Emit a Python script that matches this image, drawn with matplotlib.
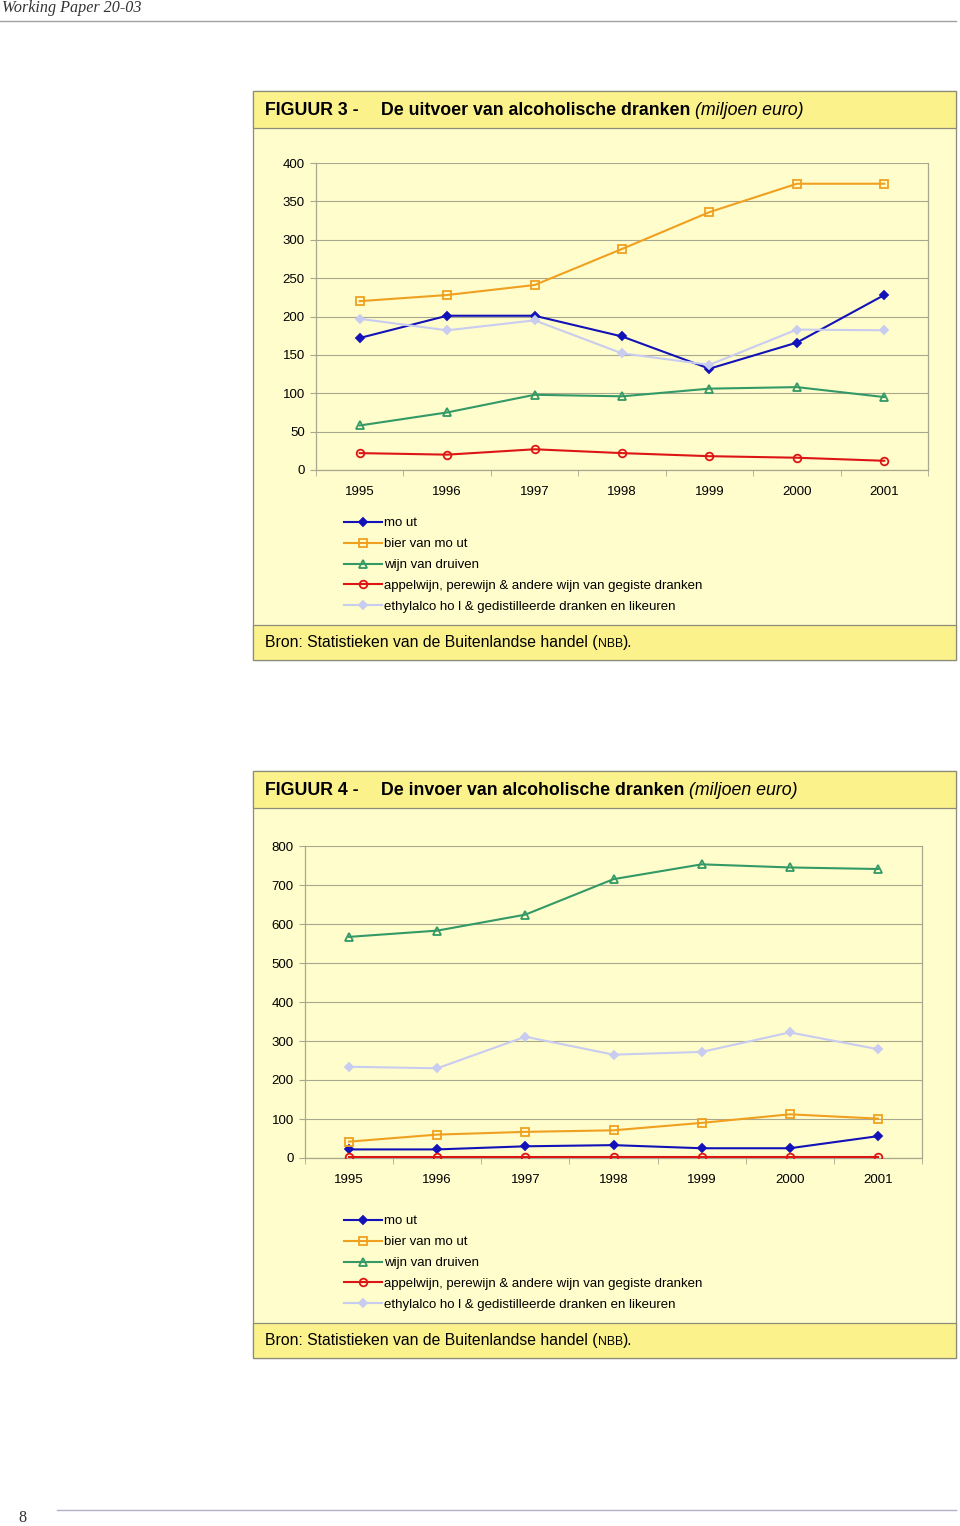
import matplotlib
matplotlib.use("Agg")
import matplotlib.pyplot as plt
from matplotlib.patches import Rectangle
from matplotlib.lines import Line2D

# ---------------------------------------------------------------------------
# Data (miljoen euro)
# ---------------------------------------------------------------------------
years = ["1995", "1996", "1997", "1998", "1999", "2000", "2001"]
labels = ["mo ut", "bier van mo ut", "wijn van druiven",
          "appelwijn, perewijn & andere wijn van gegiste dranken",
          "ethylalco ho l & gedistilleerde dranken en likeuren"]

# Figuur 3 - uitvoer
export_mout = [172, 201, 201, 174, 132, 166, 228]
export_bier = [220, 228, 241, 288, 336, 373, 373]
export_wijn = [58, 75, 98, 96, 106, 108, 95]
export_appel = [22, 20, 27, 22, 18, 16, 12]
export_ethyl = [197, 182, 195, 152, 137, 183, 182]

# Figuur 4 - invoer
import_mout = [22, 22, 30, 33, 25, 25, 56]
import_bier = [42, 60, 67, 71, 90, 112, 101]
import_wijn = [567, 583, 624, 715, 753, 745, 741]
import_appel = [3, 3, 3, 3, 3, 3, 3]
import_ethyl = [234, 230, 311, 265, 272, 322, 279]

# line styles per series: colour, marker, marker face
styles = [("#1212B8", "D", "#1212B8"),
          ("#F0A020", "s", "none"),
          ("#339966", "^", "none"),
          ("#DD1515", "o", "none"),
          ("#C8CCF0", "D", "#C8CCF0")]

W, H = 960, 1526
HEAD_YEL = "#FCF28C"
BODY_YEL = "#FFFDCB"
EDGE = "#8C8C78"
GRID = "#A8A890"

plt.rcParams["font.family"] = ["Liberation Sans", "DejaVu Sans"]

fig = plt.figure(figsize=(W / 100, H / 100), dpi=100)


def fx(x):
    return x / W


def fy(y):
    return 1 - y / H


def rect(x0, y0, x1, y1, color, edge=EDGE):
    fig.add_artist(Rectangle((fx(x0), fy(y1)), fx(x1 - x0), (y1 - y0) / H,
                             transform=fig.transFigure, facecolor=color,
                             edgecolor=edge, linewidth=0.9, zorder=-5))


def text_run(x, y, parts):
    """Write text pieces one after another on one baseline."""
    fig.canvas.draw()
    r = fig.canvas.get_renderer()
    for s, kw in parts:
        t = fig.text(fx(x), fy(y), s, va="baseline", ha="left", **kw)
        bb = t.get_window_extent(renderer=r)
        x += bb.width


def panel(top, bottom, foot, ax_box, ymax, ystep, series, title_no, title):
    rect(253, top, 956, bottom, BODY_YEL)
    rect(253, top, 956, top + 37, HEAD_YEL)
    rect(253, foot, 956, bottom, HEAD_YEL)

    fig.text(fx(265), fy(top + 24), "FIGUUR %d -" % title_no,
             fontsize=12.8, fontweight="bold", va="baseline")
    text_run(381, top + 24, [(title + " ", dict(fontsize=12.8, fontweight="bold")),
                             ("(miljoen euro)", dict(fontsize=12.8, style="italic"))])
    text_run(265, foot + 22, [("Bron: Statistieken van de Buitenlandse handel (",
                               dict(fontsize=11.3)),
                              ("NBB", dict(fontsize=8.8)),
                              (").", dict(fontsize=11.3))])

    l, t, r, b = ax_box
    ax = fig.add_axes([fx(l), fy(b), fx(r - l), (b - t) / H])
    ax.patch.set_alpha(0)
    x = list(range(len(years)))
    handles = []
    for vals, (c, m, mf), lab in zip(series, styles, labels):
        h, = ax.plot(x, vals, color=c, lw=1.5, marker=m, markersize=5.5 if m != "D" else 4.3,
                     markerfacecolor=mf, markeredgecolor=c, markeredgewidth=1.3,
                     label=lab, zorder=3)
        handles.append(h)
    ax.set_xlim(-0.5, len(years) - 0.5)
    ax.set_ylim(0, ymax)
    ax.set_yticks(range(0, ymax + 1, ystep))
    ax.set_xticks(x)
    ax.set_xticklabels(years)
    ax.set_xticks([i - 0.5 for i in range(len(years) + 1)], minor=True)
    ax.tick_params(axis="x", which="major", length=0, pad=11.5, labelsize=9.5)
    ax.tick_params(axis="x", which="minor", length=4, color=GRID, direction="out")
    ax.tick_params(axis="y", length=4, color=GRID, pad=4, labelsize=9.5)
    ax.yaxis.grid(True, color=GRID, lw=0.8)
    ax.set_axisbelow(True)
    for s in ["left", "bottom", "right"]:
        ax.spines[s].set_color(GRID)
        ax.spines[s].set_linewidth(0.9)
    ax.spines["top"].set_visible(False)
    return ax, handles


def add_legend(ax, handles, top):
    ax.legend(handles=handles, loc="upper left", bbox_to_anchor=(fx(344), fy(top)),
              bbox_transform=fig.transFigure, frameon=False, fontsize=9.5,
              borderpad=0, borderaxespad=0, handlelength=2.9, handletextpad=0.15,
              labelspacing=0.66)


ax1, h1 = panel(91, 660, 625, (316, 163, 928, 470), 400, 50,
                [export_mout, export_bier, export_wijn, export_appel, export_ethyl],
                3, "De uitvoer van alcoholische dranken")
add_legend(ax1, h1, 517)

ax2, h2 = panel(771, 1358, 1323, (305, 846, 922, 1158), 800, 100,
                [import_mout, import_bier, import_wijn, import_appel, import_ethyl],
                4, "De invoer van alcoholische dranken")
add_legend(ax2, h2, 1215)

# page header / footer
fig.text(fx(2), fy(8), "Working Paper 20-03", fontsize=11.6, style="italic",
         family="Liberation Serif", va="center", color="#333333")
fig.add_artist(Line2D([0, fx(956)], [fy(21), fy(21)], transform=fig.transFigure,
                      color="#A0A0A0", lw=1))
fig.text(fx(18), fy(1518), "8", fontsize=11.6, family="Liberation Serif",
         va="center", color="#333333")
fig.add_artist(Line2D([fx(57), fx(956)], [fy(1510), fy(1510)], transform=fig.transFigure,
                      color="#B0B0C8", lw=1))

fig.savefig("out.png", dpi=100)
